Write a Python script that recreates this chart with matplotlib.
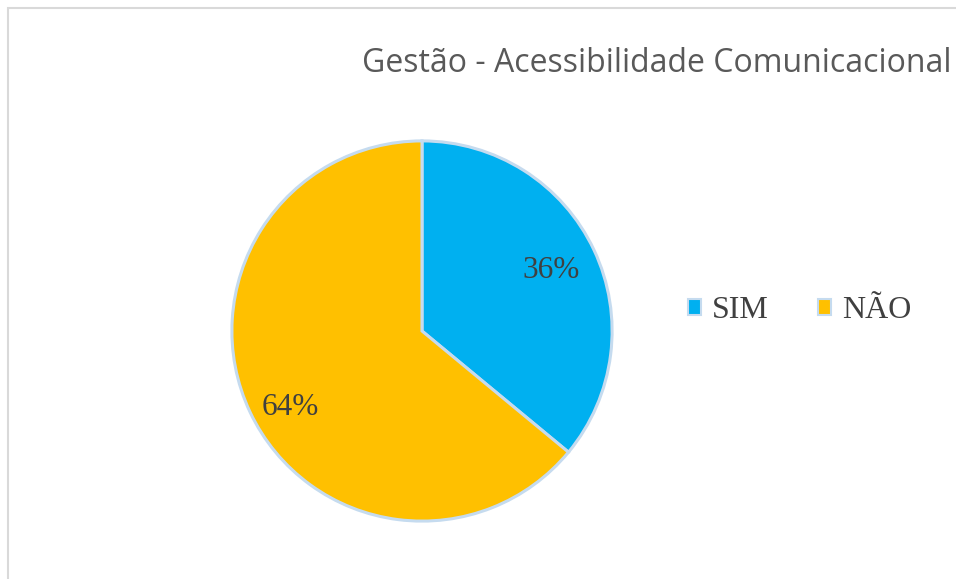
import numpy as np
import matplotlib
matplotlib.use("Agg")
import matplotlib.pyplot as plt
from matplotlib.patches import Patch, Rectangle

# data
labels = ["SIM", "NÃO"]
values = [36, 64]
colors = ["#00b0f0", "#ffc000"]
title = "Gestão - Acessibilidade Comunicacional"

W, H = 956, 579
fig = plt.figure(figsize=(W / 100, H / 100), dpi=100, facecolor="white")

# chart frame (only top and left edges are visible in the crop)
fig.add_artist(Rectangle((8 / W, -0.1), 1.2, (H - 8) / H + 0.1, transform=fig.transFigure,
                         fill=False, edgecolor="#d9d9d9", lw=1.5))

cx, cy, r = 422, 331, 192
ax = fig.add_axes([(cx - r) / W, (H - cy - r) / H, 2 * r / W, 2 * r / H])
wedges, texts, autotexts = ax.pie(
    values, colors=colors, startangle=90, counterclock=False,
    autopct="%1.0f%%", pctdistance=0.75,
    wedgeprops=dict(edgecolor="#c5dbef", linewidth=2.2),
    textprops=dict(family="Liberation Serif", fontsize=22.5, color="#404040"))
# nudge the percentage labels like the original's best-fit placement
autotexts[0].set_position((0.68, 0.32))
autotexts[1].set_position((-0.695, -0.40))
ax.set_aspect("equal")
ax.set_xlim(-1.01, 1.01)
ax.set_ylim(-1.01, 1.01)
ax.axis("off")

fig.text(362 / W, 1 - 63 / H, title, fontsize=23, color="#595959",
         family="Open Sans", ha="left", va="center")

handles = [Patch(facecolor=c, edgecolor="#c5dbef", lw=1.5) for c in colors]
fig.legend(handles, labels, loc="center left", bbox_to_anchor=(672 / W, 1 - 311 / H),
           ncol=2, frameon=False, borderpad=0, handlelength=0.4, handleheight=0.4,
           handletextpad=0.35, columnspacing=1.55,
           prop=dict(family="Liberation Serif", size=23), labelcolor="#404040")

fig.savefig("out.png", dpi=100, facecolor="white")
